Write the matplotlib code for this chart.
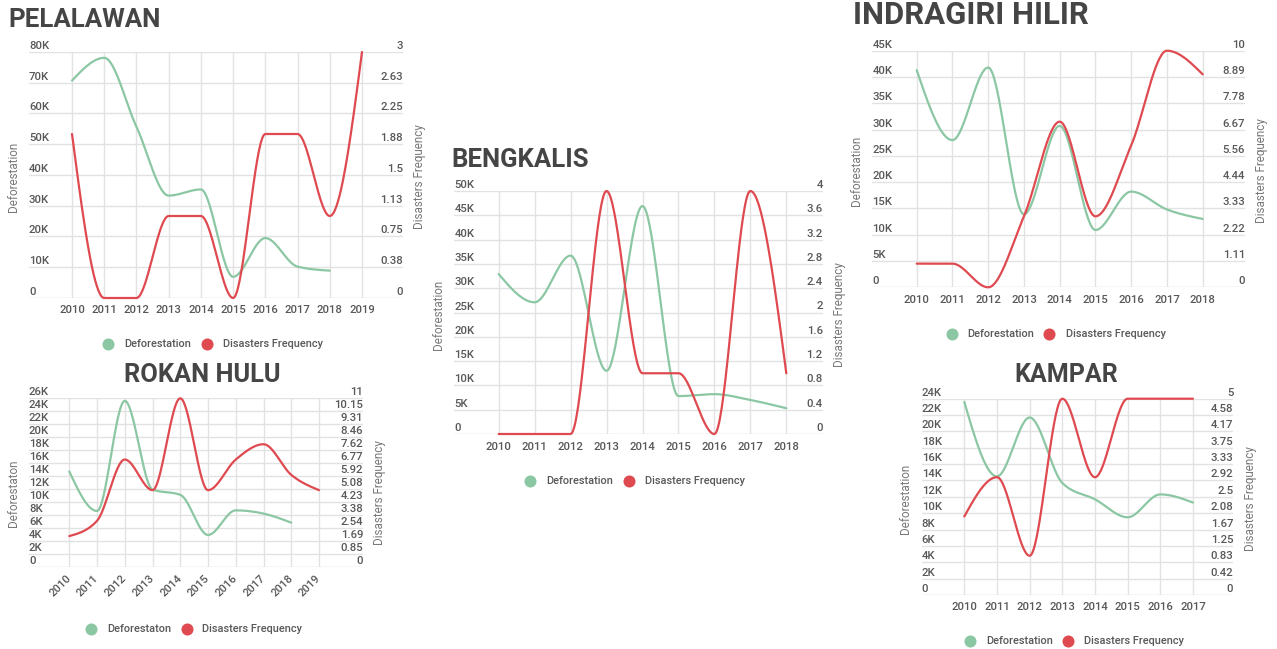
import numpy as np
import matplotlib
matplotlib.use("Agg")
import matplotlib.pyplot as plt
from matplotlib import transforms

plt.rcParams['font.family'] = ['Roboto', 'DejaVu Sans']

GREEN = '#8cc7a4'
RED = '#df4a50'
GRID = '#e2e2e2'
BASE = '#d4d4d4'
TICK = '#585858'
AXLABEL = '#787878'
TITLE = '#454545'

W, H = 1277, 649

# --- data per regency (deforestation in hectares, disasters as counts) ---
pel_years = list(range(2010, 2020))
pel_deforestation = [70700, 78100, 55700, 33300, 35300, 6900, 19500, 10200, 8900]
pel_disasters = [2, 0, 0, 1, 1, 0, 2, 2, 1, 3]
pel_freq_labels = ['0', '0.38', '0.75', '1.13', '1.5', '1.88', '2.25', '2.63', '3']

rok_years = list(range(2010, 2020))
rok_deforestation = [14700, 8600, 25600, 11900, 11100, 4900, 8700, 8200, 6800]
rok_disasters = [2, 3, 7, 5, 11, 5, 7, 8, 6, 5]
rok_freq_labels = ['0', '0.85', '1.69', '2.54', '3.38', '4.23', '5.08', '5.92',
                   '6.77', '7.62', '8.46', '9.31', '10.15', '11']

ben_years = list(range(2010, 2019))
ben_deforestation = [32900, 27100, 36700, 13000, 46900, 7800, 8200, 7000, 5300]
ben_disasters = [0, 0, 0, 4, 1, 1, 0, 4, 1]
ben_freq_labels = ['0', '0.4', '0.8', '1.2', '1.6', '2', '2.4', '2.8', '3.2', '3.6', '4']

ind_years = list(range(2010, 2019))
ind_deforestation = [41300, 28000, 41800, 13900, 30700, 10900, 18200, 14800, 13000]
ind_disasters = [1, 1, 0, 3, 7, 3, 6, 10, 9]
ind_freq_labels = ['0', '1.11', '2.22', '3.33', '4.44', '5.56', '6.67', '7.78', '8.89', '10']

kam_years = list(range(2010, 2018))
kam_deforestation = [23600, 14500, 21700, 13700, 11700, 9500, 12300, 11300]
kam_disasters = [2, 3, 1, 5, 3, 5, 5, 5]
kam_freq_labels = ['0', '0.42', '0.83', '1.25', '1.67', '2.08', '2.5', '2.92',
                   '3.33', '3.75', '4.17', '4.58', '5']


def monotone_x(xs, ys, steps=40):
    """Monotone cubic curve through the points (same rule as d3.curveMonotoneX)."""
    x = np.asarray(xs, float)
    y = np.asarray(ys, float)
    h = np.diff(x)
    s = np.diff(y) / h
    n = len(x)
    sgn = lambda v: -1.0 if v < 0 else 1.0
    t = np.zeros(n)
    for i in range(1, n - 1):
        p = (s[i - 1] * h[i] + s[i] * h[i - 1]) / (h[i - 1] + h[i])
        t[i] = (sgn(s[i - 1]) + sgn(s[i])) * min(abs(s[i - 1]), abs(s[i]), 0.5 * abs(p))
    t[0] = (3 * s[0] - t[1]) / 2
    t[-1] = (3 * s[-1] - t[-2]) / 2

    u = np.linspace(0, 1, steps)
    h00 = 2 * u**3 - 3 * u**2 + 1
    h10 = u**3 - 2 * u**2 + u
    h01 = -2 * u**3 + 3 * u**2
    h11 = u**3 - u**2
    px, py = [], []
    for i in range(n - 1):
        px.append(x[i] + u * h[i])
        py.append(h00 * y[i] + h10 * h[i] * t[i] + h01 * y[i + 1] + h11 * h[i] * t[i + 1])
    return np.concatenate(px), np.concatenate(py)


def k_label(v):
    return '0' if v == 0 else f'{int(v // 1000)}K'


fig = plt.figure(figsize=(W / 100, H / 100), dpi=100)

# full-figure layer in pixel units for titles, axis titles and legends
ov = fig.add_axes([0, 0, 1, 1])
ov.set_xlim(0, W)
ov.set_ylim(H, 0)
ov.axis('off')


def draw_panel(years, deforestation, disasters, defor_max, defor_step, freq_labels,
               defor_name, lay):
    x0, x1, y0, y1 = lay['box']
    ax = fig.add_axes([x0 / W, 1 - y1 / H, (x1 - x0) / W, (y1 - y0) / H])
    first_px, last_px = lay['year_px']
    ppy = (last_px - first_px) / (years[-1] - years[0])
    ax.set_xlim(years[0] - (first_px - x0) / ppy, years[-1] + (x1 - last_px) / ppy)
    ax.set_ylim(0, defor_max)
    ax.axis('off')

    freq_max = float(freq_labels[-1])
    ax2 = ax.twinx()
    ax2.set_ylim(0, freq_max)
    ax2.axis('off')

    left_ticks = np.arange(0, defor_max + 1, defor_step)
    for v in left_ticks:
        ax.axhline(v, color=BASE if v == 0 else GRID, lw=1, zorder=0)
    for yr in years:
        ax.axvline(yr, color=GRID, lw=1, zorder=0)

    tr_left = transforms.offset_copy(ax.get_yaxis_transform(), fig=fig, x=0, y=3, units='dots')
    for v in left_ticks:
        ax.text(0, v, k_label(v), transform=tr_left, ha='left', va='baseline',
                fontsize=8.2, color=TICK, fontweight='medium')
    tr_right = transforms.offset_copy(ax2.get_yaxis_transform(), fig=fig, x=0, y=3, units='dots')
    for v, lab in zip(np.linspace(0, freq_max, len(freq_labels)), freq_labels):
        ax2.text(1, v, lab, transform=tr_right, ha='right', va='baseline',
                 fontsize=8.2, color=TICK, fontweight='medium')

    if lay.get('rotate'):
        tr_year = transforms.offset_copy(ax.get_xaxis_transform(), fig=fig, x=0, y=-9.5, units='dots')
        for yr in years:
            ax.text(yr, 0, str(yr), transform=tr_year, rotation=45, rotation_mode='anchor',
                    ha='right', va='center', fontsize=8.2, color=TICK, fontweight='medium')
    else:
        tr_year = transforms.offset_copy(ax.get_xaxis_transform(), fig=fig, x=0, y=-15.5, units='dots')
        for yr in years:
            ax.text(yr, 0, str(yr), transform=tr_year, ha='center', va='baseline',
                    fontsize=8.2, color=TICK, fontweight='medium')

    gx, gy = monotone_x(years[:len(deforestation)], deforestation)
    ax.plot(gx, gy, color=GREEN, lw=1.6, clip_on=False, solid_capstyle='round')
    rx, ry = monotone_x(years[:len(disasters)], disasters)
    ax2.plot(rx, ry, color=RED, lw=1.6, clip_on=False, solid_capstyle='round')

    # titles and axis names
    tx, ty, tsize, talign = lay['title_pos']
    ov.text(tx, ty, lay['title'], ha=talign, va='baseline', fontsize=tsize,
            fontweight='bold', color=TITLE)
    lx, rxl, ly = lay['ylabel_pos']
    ov.text(lx, ly, defor_name, rotation=90, ha='center', va='center',
            fontsize=8.4, color=AXLABEL)
    ov.text(rxl, ly, 'Disasters Frequency', rotation=90, ha='center', va='center',
            fontsize=8.4, color=AXLABEL)

    # legend
    gcx, gtx, rcx, rtx, leg_y = lay['legend']
    ov.scatter([gcx], [leg_y], s=75, color=GREEN, lw=0)
    ov.scatter([rcx], [leg_y], s=75, color=RED, lw=0)
    ov.text(gtx, leg_y, defor_name, ha='left', va='center', fontsize=7.9,
            color=TICK, fontweight='medium')
    ov.text(rtx, leg_y, 'Disasters Frequency', ha='left', va='center', fontsize=7.9,
            color=TICK, fontweight='medium')


draw_panel(pel_years, pel_deforestation, pel_disasters, 80000, 10000, pel_freq_labels,
           'Deforestation',
           dict(box=(29, 403, 52, 298), year_px=(72, 362), title='PELALAWAN',
                title_pos=(8, 27.3, 18.6, 'left'), ylabel_pos=(13, 419, 177),
                legend=(108, 124, 207, 223, 344)))

draw_panel(rok_years, rok_deforestation, rok_disasters, 26000, 2000, rok_freq_labels,
           'Deforestaton',
           dict(box=(29, 363, 398.3, 566.7), year_px=(69.3, 319), title='ROKAN HULU',
                title_pos=(202, 382.3, 18.3, 'center'), ylabel_pos=(13, 380, 493),
                legend=(91, 107, 187, 202, 629), rotate=True))

draw_panel(ben_years, ben_deforestation, ben_disasters, 50000, 5000, ben_freq_labels,
           'Deforestation',
           dict(box=(454.3, 822.7, 191, 434), year_px=(498.7, 786.3), title='BENGKALIS',
                title_pos=(451.7, 166.7, 18.5, 'left'), ylabel_pos=(438.3, 839, 315),
                legend=(530, 546.7, 629, 645, 481)))

draw_panel(ind_years, ind_deforestation, ind_disasters, 45000, 5000, ind_freq_labels,
           'Deforestation',
           dict(box=(872.3, 1245, 50.7, 287.3), year_px=(916.7, 1202.7), title='INDRAGIRI HILIR',
                title_pos=(852.7, 24.5, 22.4, 'left'), ylabel_pos=(856.7, 1261.7, 171),
                legend=(951.7, 967.7, 1049, 1065.7, 334)))

draw_panel(kam_years, kam_deforestation, kam_disasters, 24000, 2000, kam_freq_labels,
           'Deforestation',
           dict(box=(921.7, 1233.3, 398.7, 595), year_px=(964.3, 1193), title='KAMPAR',
                title_pos=(1066.5, 382.3, 18, 'center'), ylabel_pos=(906, 1250.7, 498.7),
                legend=(970, 986.7, 1068.3, 1084, 641)))

fig.savefig('out.png', dpi=100)
